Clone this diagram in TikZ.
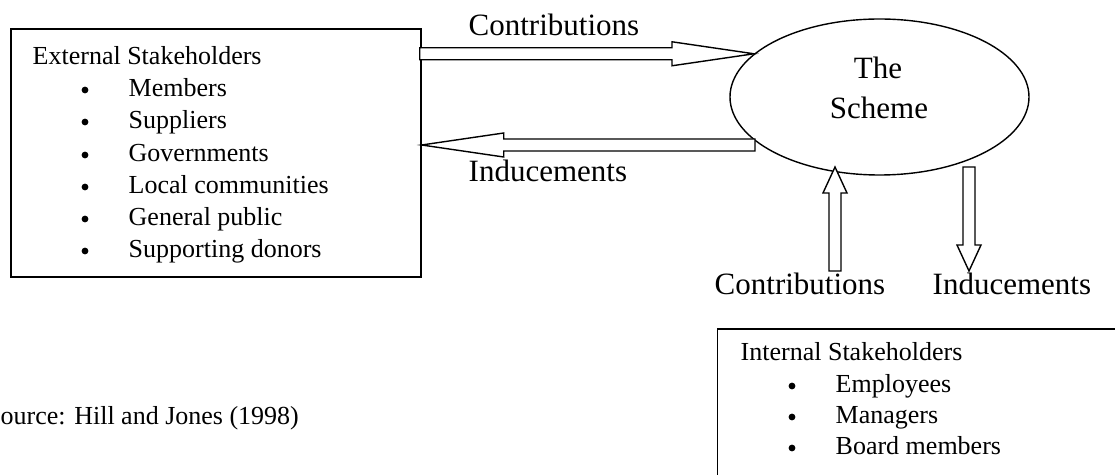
\documentclass[tikz,border=0pt]{standalone}
\usepackage{fontspec}
\setmainfont{Liberation Serif}
\usetikzlibrary{shapes.geometric,calc}

\tikzset{
  hollow/.style={draw, fill=white, line width=0.7pt, line join=miter},
  listtxt/.style={anchor=base west, inner sep=0pt, font=\fontsize{13}{15}\selectfont},
  dot/.style={circle, fill=black, inner sep=0pt, minimum size=3.4pt},
  bigtxt/.style={anchor=base west, inner sep=0pt, font=\fontsize{15.5}{20}\selectfont},
}

% hollow block arrow: from, to, head length
\newcommand{\blockarrow}[3]{%
  \coordinate (h) at ($(#2)!#3!(#1)$);
  \draw[hollow] ($(#1)!3pt!90:(#2)$) -- ($(h)!3pt!90:(#2)$) -- ($(h)!6pt!90:(#2)$) -- (#2)
    -- ($(h)!6pt!-90:(#2)$) -- ($(h)!3pt!-90:(#2)$) -- ($(#1)!3pt!-90:(#2)$) -- cycle;}

\begin{document}
\begin{tikzpicture}[x=0.5pt, y=-0.5pt, line width=0.7pt]
  \useasboundingbox (0,0) rectangle (1115,475);

  % external stakeholders
  \node[draw, minimum width=205pt, minimum height=124pt, inner sep=0pt] (ext) at (216,153) {};
  \node[listtxt] (exthead) at (32,65) {External Stakeholders};
  \node[dot] (b1) at (85,90) {};
  \node[listtxt] (members) at (128,97) {Members};
  \node[dot] (b2) at (85,122) {};
  \node[listtxt] (suppliers) at (128,129) {Suppliers};
  \node[dot] (b3) at (85,155) {};
  \node[listtxt] (govts) at (128,162) {Governments};
  \node[dot] (b4) at (85,187) {};
  \node[listtxt] (local) at (128,194) {Local communities};
  \node[dot] (b5) at (85,219) {};
  \node[listtxt] (public) at (128,226) {General public};
  \node[dot] (b6) at (85,251) {};
  \node[listtxt] (donors) at (128,258) {Supporting donors};

  % the scheme
  \node[draw, ellipse, minimum width=149.5pt, minimum height=78pt, inner sep=0pt] (scheme) at (879.5,97) {};
  \node[bigtxt, anchor=base] (the) at (878,79) {The};
  \node[bigtxt, anchor=base] (schm) at (879,119) {Scheme};

  % internal stakeholders (box runs off the page)
  \node[draw, anchor=north west, minimum width=215pt, minimum height=85pt, inner sep=0pt] (int) at (717,328.5) {};
  \node[listtxt] (inthead) at (740,361) {Internal Stakeholders};
  \node[dot] (b7) at (792,386) {};
  \node[listtxt] (employees) at (835,393) {Employees};
  \node[dot] (b8) at (792,417) {};
  \node[listtxt] (managers) at (835,424) {Managers};
  \node[dot] (b9) at (792,448) {};
  \node[listtxt] (board) at (835,455) {Board members};

  % external flows
  \coordinate (ctip) at (scheme.161);
  \coordinate (ctail) at ([xshift=-1pt]ext.east |- ctip);
  \blockarrow{ctail}{ctip}{41pt}
  \node[bigtxt] (contriblbl) at (468,36) {Contributions};

  \coordinate (itail) at (755,145);
  \coordinate (itip) at (ext.east |- itail);
  \blockarrow{itail}{itip}{41pt}
  \node[bigtxt] (inducelbl) at (468,182) {Inducements};

  % internal flows
  \coordinate (ubot) at (835,271);
  \coordinate (utop) at (835,167);
  \blockarrow{ubot}{utop}{13pt}
  \coordinate (dtop) at (969,167);
  \coordinate (dbot) at (969,271);
  \blockarrow{dtop}{dbot}{13pt}
  \node[bigtxt] (contriblbl2) at (714,295) {Contributions};
  \node[bigtxt] (inducelbl2) at (932,295) {Inducements};

  \node[listtxt] (source) at (-14.5,425) {Source: Hill and Jones (1998)};
\end{tikzpicture}
\end{document}
